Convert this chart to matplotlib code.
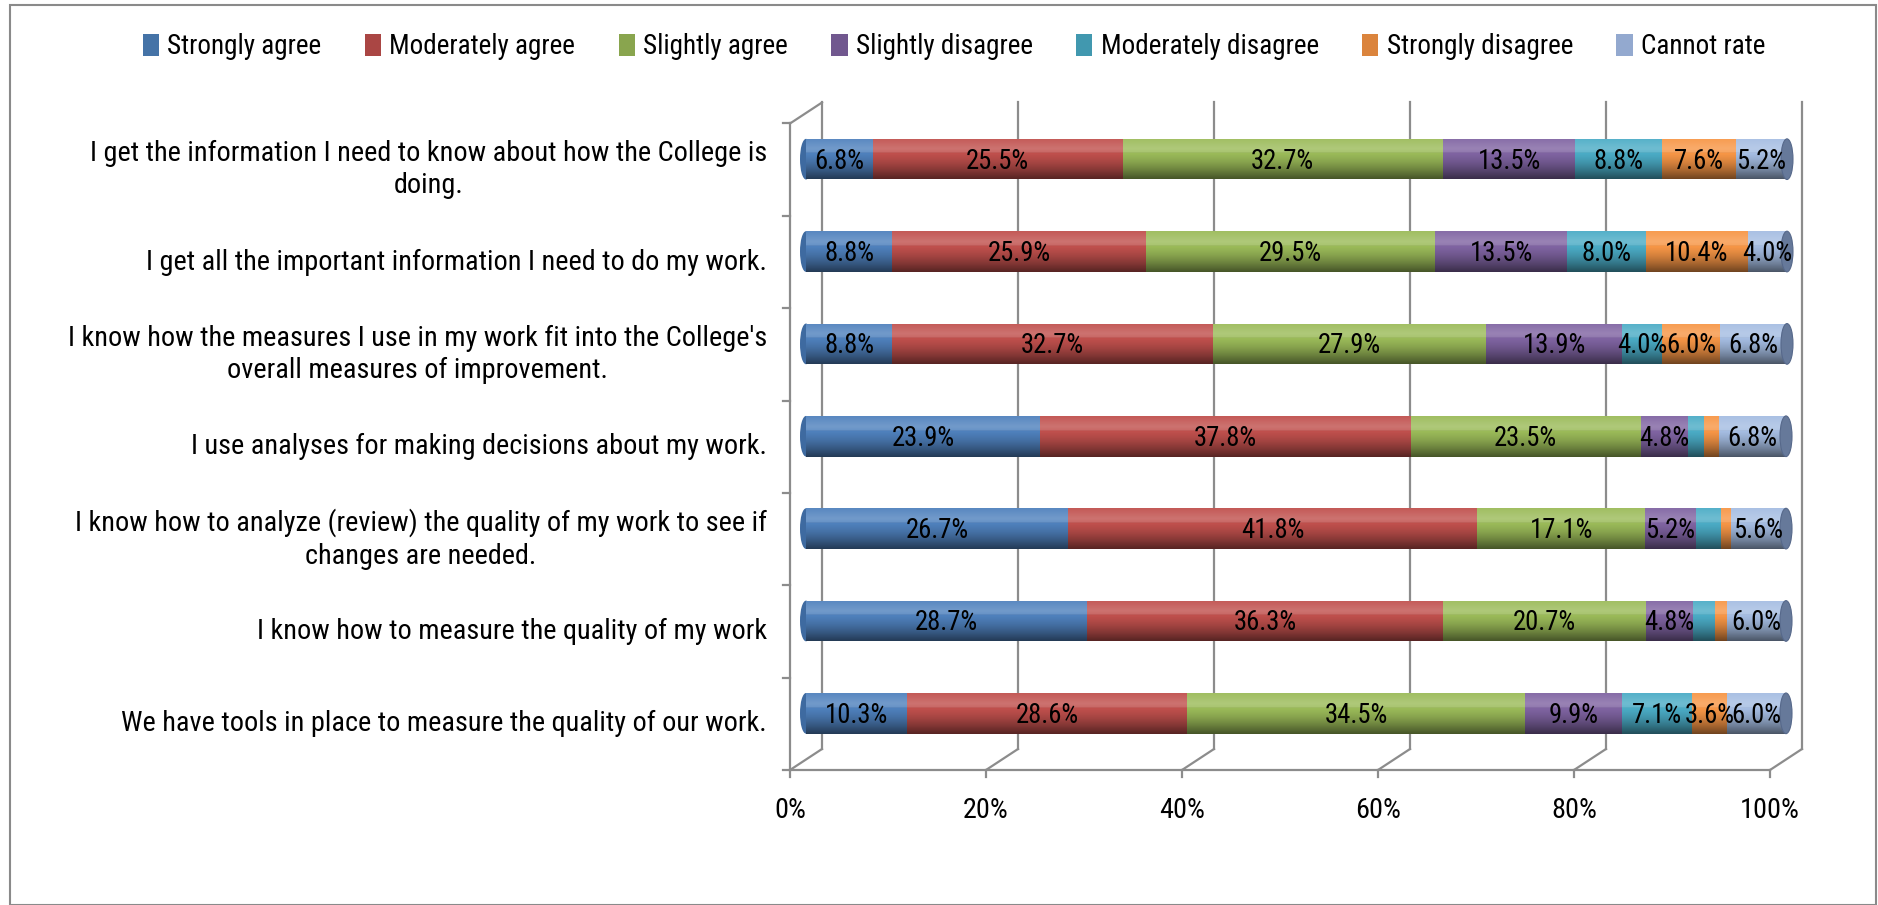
import numpy as np
import matplotlib
matplotlib.use("Agg")
import matplotlib.pyplot as plt
from matplotlib import font_manager
from matplotlib.patches import Rectangle, Ellipse, Patch

# ---------------- data ----------------
categories = [
    "I get the information I need to know about how the College is\ndoing.",
    "I get all the important information I need to do my work.",
    "I know how the measures I use in my work fit into the College's\noverall measures of improvement.",
    "I use analyses for making decisions about my work.",
    "I know how to analyze (review) the quality of my work to see if\nchanges are needed.",
    "I know how to measure the quality of my work",
    "We have tools in place to measure the quality of our work.",
]
series_names = ["Strongly agree", "Moderately agree", "Slightly agree", "Slightly disagree",
                "Moderately disagree", "Strongly disagree", "Cannot rate"]
strongly_agree      = [6.8, 8.8, 8.8, 23.9, 26.7, 28.7, 10.3]
moderately_agree    = [25.5, 25.9, 32.7, 37.8, 41.8, 36.3, 28.6]
slightly_agree      = [32.7, 29.5, 27.9, 23.5, 17.1, 20.7, 34.5]
slightly_disagree   = [13.5, 13.5, 13.9, 4.8, 5.2, 4.8, 9.9]
moderately_disagree = [8.8, 8.0, 4.0, 1.6, 2.6, 2.3, 7.1]
strongly_disagree   = [7.6, 10.4, 6.0, 1.6, 1.0, 1.2, 3.6]
cannot_rate         = [5.2, 4.0, 6.8, 6.8, 5.6, 6.0, 6.0]
x_ticks = [0, 20, 40, 60, 80, 100]
x_tick_labels = ["0%", "20%", "40%", "60%", "80%", "100%"]

series = [strongly_agree, moderately_agree, slightly_agree, slightly_disagree,
          moderately_disagree, strongly_disagree, cannot_rate]
colors = ["#4F81BD", "#C0504D", "#9BBB59", "#8064A2", "#4BACC6", "#F79646", "#A5BDE2"]
legend_colors = ["#4573A7", "#AA4644", "#89A54E", "#71588F", "#4198AF", "#DB843D", "#93A9CF"]

# ---------------- font ----------------
avail = {f.name for f in font_manager.fontManager.ttflist}
font = "DejaVu Sans"
for cand in ["Liberation Sans Narrow", "DejaVu Sans Condensed", "Roboto Condensed", "Lato", "Open Sans"]:
    if cand in avail:
        font = cand
        break
plt.rcParams["font.family"] = [font, "DejaVu Sans"]

W, H = 1878, 905
fig = plt.figure(figsize=(W / 100, H / 100), dpi=100)
renderer = fig.canvas.get_renderer()


def fit_size(s, target_px):
    t = fig.text(0, 0, s, fontsize=10)
    w = t.get_window_extent(renderer).width
    t.remove()
    return 10 * target_px / w


cat_fs = fit_size("I get all the important information I need to do my work.", 614)
leg_fs = fit_size("Strongly agree", 154)
lab_fs = fit_size("25.5%", 63)
tick_fs = fit_size("100%", 59)

# figure border
fig.patches.append(Rectangle((10 / W, 0.5 / H), (W - 12) / W, (H - 6) / H, transform=fig.transFigure,
                             fill=False, edgecolor="#8a8a8a", lw=1.5))

# mid-depth plane of the 3-D plot
left_px, right_px, top_px, bot_px = 806, 1786, 113, 759.5
ax = fig.add_axes([left_px / W, 1 - bot_px / H, (right_px - left_px) / W, (bot_px - top_px) / H])
n = len(categories)
ax.set_xlim(0, 100)
ax.set_ylim(n - 0.5, -0.5)
ax.axis("off")

px_x = 100 / (right_px - left_px)          # data units per pixel (x)
px_y = n / (bot_px - top_px)               # data units per pixel (y)
dx, dy = 16 * px_x, 10.5 * px_y            # depth offset (half)
grid_c = "#8c8c8c"
lw = 1.6

# back gridlines + floor diagonals
for v in x_ticks:
    ax.plot([v + dx, v + dx], [-0.5 - dy, n - 0.5 - dy], color=grid_c, lw=lw, clip_on=False, zorder=0)
    ax.plot([v + dx, v - dx], [n - 0.5 - dy, n - 0.5 + dy], color=grid_c, lw=lw, clip_on=False, zorder=0)
    ax.plot([v - dx, v - dx], [n - 0.5 + dy, n - 0.5 + dy + 7 * px_y], color=grid_c, lw=lw, clip_on=False, zorder=0)
# front floor edge
ax.plot([-dx, 100 - dx], [n - 0.5 + dy, n - 0.5 + dy], color=grid_c, lw=lw, clip_on=False, zorder=0)
# left wall
ax.plot([-dx, -dx], [-0.5 + dy, n - 0.5 + dy], color=grid_c, lw=lw, clip_on=False, zorder=0)
ax.plot([-dx, dx], [-0.5 + dy, -0.5 - dy], color=grid_c, lw=lw, clip_on=False, zorder=0)
for k in range(n + 1):
    yb = k - 0.5 + dy
    ax.plot([-dx - 7 * px_x, -dx], [yb, yb], color=grid_c, lw=lw, clip_on=False, zorder=0)

# x tick labels (front plane)
for v, s in zip(x_ticks, x_tick_labels):
    ax.text(v - dx, n - 0.5 + dy + 41 * px_y, s, ha="center", va="center", fontsize=tick_fs,
            color="#000000", clip_on=False)

# category labels
for i, c in enumerate(categories):
    ax.text(-dx - 23 * px_x, i + dy, c, ha="right", va="center", multialignment="center",
            fontsize=cat_fs, color="#000000", clip_on=False, linespacing=1.25)

# bars
bh = 0.44
y = np.arange(n)
left = np.zeros(n)
totals = np.sum(np.array(series), axis=0)
cap_w = 12 * px_x

for i in range(n):
    ax.add_patch(Ellipse((0, i), cap_w, bh, facecolor="#3E6AA0", edgecolor="none", zorder=1,
                         clip_on=False))

for vals, col in zip(series, colors):
    vals = np.array(vals)
    ax.barh(y, vals, left=left, height=bh, color=col, edgecolor="none", zorder=2)
    for i in range(n):
        if vals[i] >= 3:
            ax.text(left[i] + vals[i] / 2, i + 0.02, f"{vals[i]:.1f}%", ha="center", va="center",
                    fontsize=lab_fs, color="#000000", zorder=6)
    left = left + vals

# cylinder shading
N = 64
f = np.linspace(0, 1, N)
grad = np.zeros((N, 1, 4))
for k, fv in enumerate(f):
    if fv < 0.35:
        a = 0.2 * (1 - abs(fv - 0.25) / 0.35)
        grad[k, 0] = [1, 1, 1, max(a, 0)]
    else:
        grad[k, 0] = [0, 0, 0, 0.55 * ((fv - 0.35) / 0.65) ** 1.4]
for i in range(n):
    clip = Rectangle((0, i - bh / 2), totals[i], bh, transform=ax.transData)
    im = ax.imshow(grad, extent=(0, totals[i], i + bh / 2, i - bh / 2), aspect="auto",
                   interpolation="bilinear", zorder=3)
    im.set_clip_path(clip)
    ax.add_patch(Ellipse((totals[i], i), cap_w, bh, facecolor="#66799A", edgecolor="#56688a",
                         lw=0.8, zorder=4, clip_on=False))
ax.set_xlim(0, 100)
ax.set_ylim(n - 0.5, -0.5)

# legend
handles = [Patch(facecolor=c, edgecolor="none") for c in legend_colors]
fig.legend(handles, series_names, loc="center", bbox_to_anchor=(0.508, 1 - 47 / H), ncol=7,
           frameon=False, fontsize=leg_fs, handlelength=0.6, handleheight=0.9,
           handletextpad=0.3, columnspacing=1.6)

fig.savefig("out.png", dpi=100)
